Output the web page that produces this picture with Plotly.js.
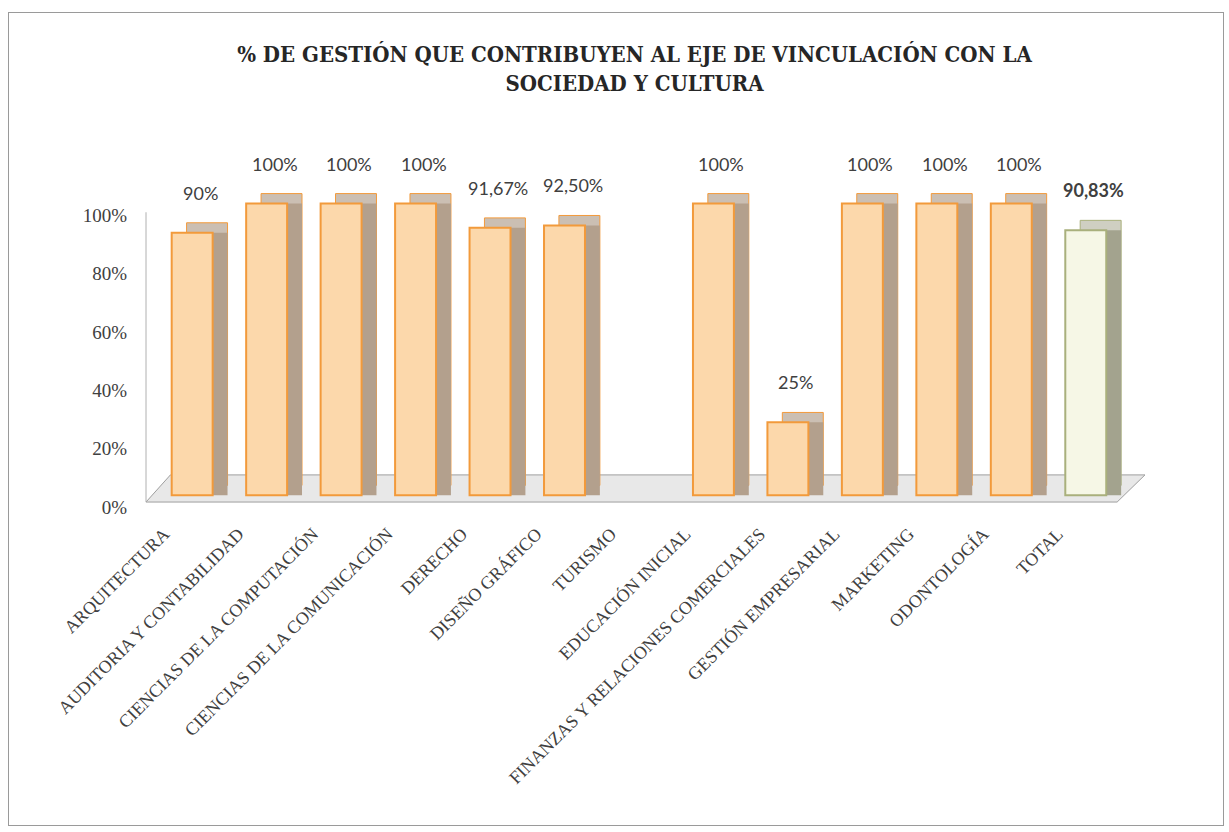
<!DOCTYPE html>
<html>
<head>
<meta charset="utf-8">
<script src="https://cdn.plot.ly/plotly-3.0.1.min.js"></script>
<style>
  html, body { margin: 0; padding: 0; background: #ffffff; }
  #wrap { position: relative; width: 1229px; height: 832px; }
  #chart { width: 1229px; height: 832px; }
  #frame { position: absolute; left: 8px; top: 12px; width: 1216px; height: 814px;
           border: 1px solid #9a9a9a; pointer-events: none; box-sizing: border-box; }
</style>
</head>
<body>
<div id="wrap">
  <div id="chart"></div>
  <div id="frame"></div>
</div>
<script>
const categories = [
  "ARQUITECTURA",
  "AUDITORIA Y CONTABILIDAD",
  "CIENCIAS DE LA COMPUTACIÓN",
  "CIENCIAS DE LA COMUNICACIÓN",
  "DERECHO",
  "DISEÑO GRÁFICO",
  "TURISMO",
  "EDUCACIÓN INICIAL",
  "FINANZAS Y RELACIONES COMERCIALES",
  "GESTIÓN EMPRESARIAL",
  "MARKETING",
  "ODONTOLOGÍA",
  "TOTAL"
];
const values = [90, 100, 100, 100, 91.67, 92.5, null, 100, 25, 100, 100, 100, 90.83];
const yTicks = [0, 20, 40, 60, 80, 100];
const yTickLabels = yTicks.map(v => v + "%");
const titleText = "<b>% DE GESTIÓN QUE CONTRIBUYEN AL EJE DE VINCULACIÓN CON LA<br>SOCIEDAD Y CULTURA</b>";

const isTotal = categories.map(c => c === "TOTAL");
const frontColors = isTotal.map(t => t ? "#F6F7E6" : "#FCD8AB");
const frontLines  = isTotal.map(t => t ? "#A9B07C" : "#F29A3B");
const sideColors  = isTotal.map(t => t ? "#A3A38E" : "#B3A08D");
const lidColors   = isTotal.map(t => t ? "#CFCFC2" : "#CBBFB3");

const BW = 0.55, D = 0.2, DY = 3.4, FLOOR = 4;

const fmt = v => (Number.isInteger(v) ? String(v) : v.toFixed(2).replace(".", ",")) + "%";

const lid = {
  type: "bar", x: categories, y: values, base: FLOOR + DY,
  width: BW, offset: -BW / 2 + D,
  marker: { color: lidColors, line: { color: frontLines, width: 1 } },
  hoverinfo: "skip", cliponaxis: false, showlegend: false
};
const side = {
  type: "bar", x: categories, y: values, base: FLOOR,
  width: BW, offset: -BW / 2 + D,
  marker: { color: sideColors, line: { width: 0 } },
  hoverinfo: "skip", cliponaxis: false, showlegend: false
};
const front = {
  type: "bar", x: categories, y: values, base: FLOOR,
  width: BW, offset: -BW / 2,
  marker: { color: frontColors, line: { color: frontLines, width: 2 } },
  cliponaxis: false, showlegend: false
};

const annotations = categories.map((c, i) => values[i] == null ? null : ({
  x: c, y: values[i] + FLOOR, xref: "x", yref: "y",
  text: isTotal[i] ? "<b>" + fmt(values[i]) + "</b>" : fmt(values[i]),
  showarrow: false, xshift: 8, yshift: 40,
  font: { family: "Lato, 'Open Sans', sans-serif", size: 18, color: "#404040" }
})).filter(a => a);

const serif = "Liberation Serif, DejaVu Serif, serif";
const titleFamily = "DejaVu Serif Condensed";

const layout = {
  width: 1229, height: 832,
  font: { family: titleFamily, color: "#262626" },
  paper_bgcolor: "#ffffff", plot_bgcolor: "rgba(0,0,0,0)",
  margin: { l: 146, r: 106, t: 186, b: 325 },
  barmode: "overlay",
  title: {
    text: titleText, x: 0.5, xref: "paper", xanchor: "center",
    y: 0.925, yref: "container", yanchor: "top",
    font: { family: titleFamily, size: 22, color: "#262626" }
  },
  xaxis: {
    type: "category", range: [-0.62, 12.5],
    showline: false, showgrid: false, zeroline: false, ticks: "",
    tickangle: -45, ticklabelshift: -28, ticklabelstandoff: 12,
    tickfont: { family: serif, size: 18, color: "#404040" }
  },
  yaxis: {
    range: [0, 110], tickvals: yTicks, ticktext: yTickLabels,
    showline: false, showgrid: false, zeroline: false, ticks: "", ticklabelstandoff: 18,
    tickfont: { family: serif, size: 19, color: "#404040" }
  },
  shapes: [
    {
      type: "path", xref: "paper", yref: "y", layer: "below",
      path: "M 0 1.7 L 0.994 1.7 L 1.0225 11 L 0.025 11 Z",
      fillcolor: "#E8E8E8", line: { color: "#9E9E9E", width: 1 }
    },
    {
      type: "line", xref: "paper", yref: "y", layer: "below",
      x0: 0, x1: 0, y0: 1.7, y1: 101,
      line: { color: "#B0B0B0", width: 1 }
    }
  ],
  annotations: annotations
};

Plotly.newPlot("chart", [lid, side, front], layout, { displayModeBar: false, staticPlot: true });
</script>
</body>
</html>
